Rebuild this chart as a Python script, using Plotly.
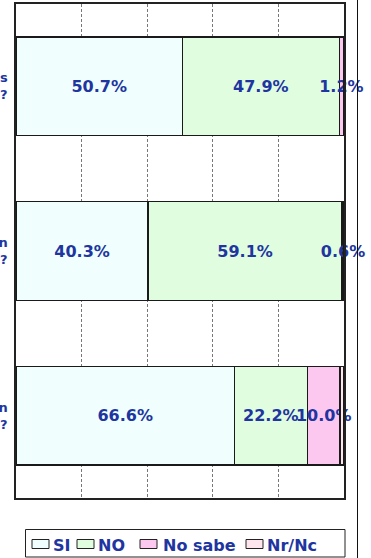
import plotly.graph_objects as go

# ---- data ----
categories = ["s<br>?", "n<br>?", "n<br>?"]   # visible fragments of question labels
series_names = ["SI", "NO", "No sabe", "Nr/Nc"]
si = [50.7, 40.3, 66.6]
no = [47.9, 59.1, 22.2]
no_sabe = [1.2, 0.6, 10.0]
nr_nc = [0.2, 0.0, 1.2]

series_values = [si, no, no_sabe, nr_nc]
colors = ["#F0FFFD", "#E0FDE0", "#FDC8F0", "#FFE6EE"]
show_text = [True, True, True, False]

W, H = 371, 558
L, R, T, B = 16, 344, 4, 498
TXT = "#2035A0"
FONT = "DejaVu Sans"

ypos = list(range(len(categories)))

fig = go.Figure()
for name, vals, col, st in zip(series_names, series_values, colors, show_text):
    fig.add_trace(go.Bar(
        y=ypos, x=vals, orientation="h", name=name,
        marker=dict(color=col, line=dict(color="#1a1a1a", width=1.5)),
        width=0.6,
        texttemplate="%{x:.1f}%" if st else "",
        textposition="inside", insidetextanchor="middle", textangle=0,
        constraintext="none", cliponaxis=False,
        textfont=dict(family=FONT, size=16, color=TXT, weight="bold"),
        hoverinfo="skip", showlegend=False,
    ))

def px(x):
    return (x - L) / (R - L)

def py(y):
    return (B - y) / (B - T)

shapes = []
annotations = []
# outer vertical line at right
shapes.append(dict(type="line", xref="paper", yref="paper",
                   x0=px(357.5), x1=px(357.5), y0=py(H + 2), y1=py(-2),
                   line=dict(color="#111111", width=1)))
# legend box
shapes.append(dict(type="rect", xref="paper", yref="paper",
                   x0=px(25.5), x1=px(345), y0=py(557), y1=py(529.5),
                   line=dict(color="#222222", width=1), fillcolor="white"))
sw_x = [32, 77, 140, 246]
tx_x = [51, 96, 161, 265]
for name, col, sx, tx in zip(series_names, colors, sw_x, tx_x):
    shapes.append(dict(type="rect", xref="paper", yref="paper",
                       x0=px(sx), x1=px(sx + 17), y0=py(548.5), y1=py(539.5),
                       line=dict(color="#222222", width=1), fillcolor=col))
    annotations.append(dict(xref="paper", yref="paper", x=px(tx), y=py(545),
                            xanchor="left", yanchor="middle", showarrow=False,
                            text=f"<b>{name}</b>",
                            font=dict(family=FONT, size=16, color=TXT)))

fig.update_layout(
    width=W, height=H,
    margin=dict(l=L, r=W - R, t=T, b=H - B, autoexpand=False),
    paper_bgcolor="white", plot_bgcolor="white",
    barmode="stack", bargap=0.4,
    showlegend=False,
    shapes=shapes, annotations=annotations,
    xaxis=dict(range=[0, 100], tickvals=[0, 20, 40, 60, 80, 100],
               showticklabels=False, ticks="",
               showgrid=True, gridcolor="#777777", griddash="3px,2px", gridwidth=1,
               showline=True, mirror=True, linecolor="#222222", linewidth=1.5,
               zeroline=False, fixedrange=True),
    yaxis=dict(range=[2.5, -0.5], tickvals=ypos, ticktext=categories,
               showgrid=False, zeroline=False,
               ticks="outside", ticklen=4, tickcolor="rgba(0,0,0,0)",
               tickfont=dict(family=FONT, size=13, color=TXT, weight="bold"),
               showline=True, mirror=True, linecolor="#222222", linewidth=1.5,
               fixedrange=True),
)

fig.write_html("out.html", config={"displayModeBar": False},
               post_script="document.body.style.margin='0';document.body.style.overflow='hidden';")
